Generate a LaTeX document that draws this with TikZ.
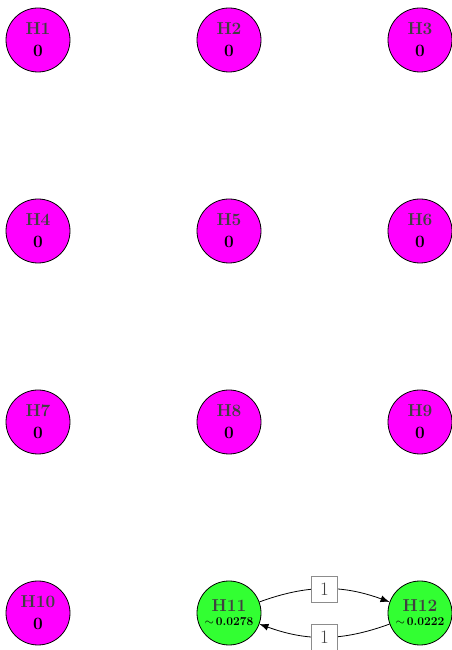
\documentclass[tikz,border=0pt]{standalone}
\usetikzlibrary{arrows.meta}
\definecolor{IdleClr}{RGB}{255,0,255}
\definecolor{ActiveClr}{RGB}{50,255,50}
\definecolor{NameClr}{RGB}{64,64,64}
\definecolor{BoxClr}{RGB}{140,140,140}

\begin{document}
\begin{tikzpicture}[x=1pt,y=1pt,
  hub/.style={circle,draw=black,line width=0.8pt,minimum size=64pt,inner sep=0pt,align=center,font=\LARGE\bfseries},
  weight/.style={draw=BoxClr,fill=white,font=\fontsize{19}{23}\selectfont,text=NameClr,minimum width=26pt,minimum height=26pt,inner sep=1pt},
  link/.style={-{Latex[length=9pt,width=7pt]},line width=0.8pt,bend left=20}]
\useasboundingbox (0,0) rectangle (452,650);

% idle hubs
\foreach \n/\x/\y in {1/38/610,2/229/610,3/420/610,
                      4/38/419,5/229/419,6/420/419,
                      7/38/228,8/229/228,9/420/228,
                      10/38/37}
  \node[hub,fill=IdleClr] (H\n) at (\x,\y) {\textcolor{NameClr}{H\n}\\0};

% active hubs
\node[hub,fill=ActiveClr] (H11) at (229,37) {\textcolor{NameClr}{H11}\\[-8pt]{\large$\sim$\,0.0278}};
\node[hub,fill=ActiveClr] (H12) at (420,37) {\textcolor{NameClr}{H12}\\[-8pt]{\large$\sim$\,0.0222}};

\draw[link] (H11) to node[weight] {1} (H12);
\draw[link] (H12) to node[weight] {1} (H11);

\end{tikzpicture}
\end{document}
